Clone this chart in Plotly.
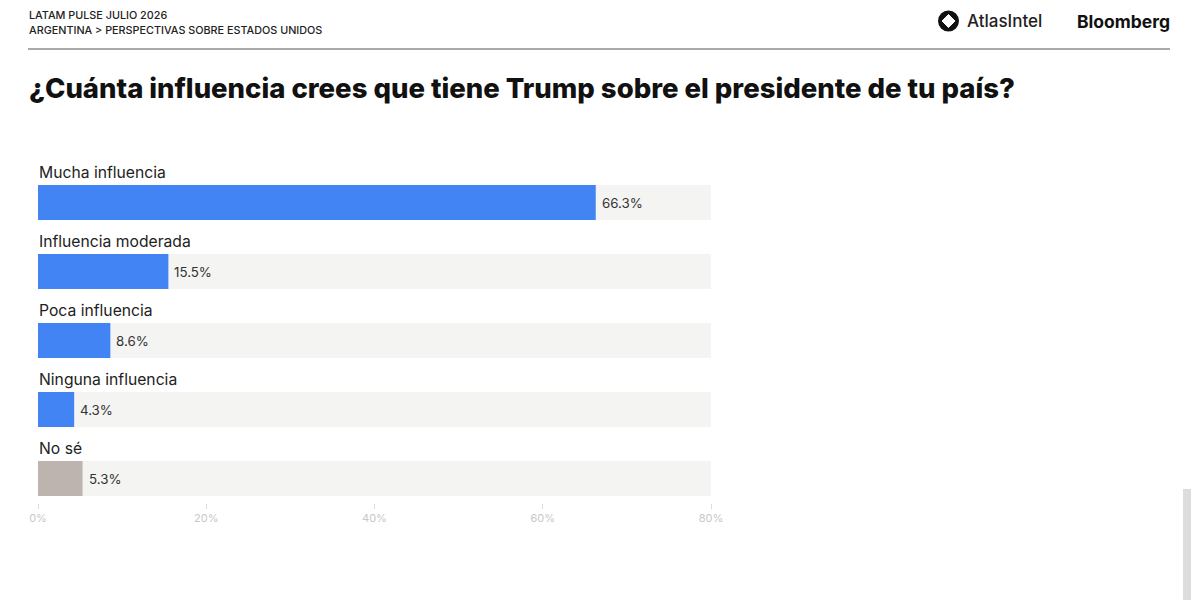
import plotly.graph_objects as go

categories = ["Mucha influencia", "Influencia moderada", "Poca influencia", "Ninguna influencia", "No sé"]
values = [66.3, 15.5, 8.6, 4.3, 5.3]
value_labels = ["66.3%", "15.5%", "8.6%", "4.3%", "5.3%"]
bar_colors = ["#4284F3", "#4284F3", "#4284F3", "#4284F3", "#BEB4AF"]
track_max = [80, 80, 80, 80, 80]
tick_vals = [0, 20, 40, 60, 80]
tick_text = ["0%", "20%", "40%", "60%", "80%"]

OFF = 8  # page body margin
W, H = 1200, 600
PL, PR, PT, PB = 38, 711, 150, 503  # plot area in page pixels
ML, MT = PL - OFF, PT - OFF
MR, MB = W - (PR - OFF), H - (PB - OFF)
PW, PH = PR - PL, PB - PT


def px(x):
    return (x - PL) / PW


def py(y):
    return 1 - (y - PT) / PH


fig = go.Figure()
fig.add_trace(go.Bar(y=categories, x=track_max, orientation="h", marker=dict(color="#F4F4F2", line=dict(width=0)),
                     width=0.507, hoverinfo="skip", showlegend=False))
fig.add_trace(go.Bar(y=categories, x=values, orientation="h", marker=dict(color=bar_colors, line=dict(width=0)),
                     width=0.507, showlegend=False))

ann = []
for c, v, t in zip(categories, values, value_labels):
    ann.append(dict(x=0, y=c, xref="x", yref="y", text=c, showarrow=False, xanchor="left", yanchor="middle",
                    yshift=30, xshift=-1, font=dict(family="Inter", size=15.7, color="#222222")))
    ann.append(dict(x=v, y=c, xref="x", yref="y", text=t, showarrow=False, xanchor="left", yanchor="middle",
                    xshift=4, font=dict(family="Inter", size=13.3, color="#333333")))

ann += [
    dict(x=px(27), y=py(15), xref="paper", yref="paper", text="LATAM PULSE JULIO 2026", showarrow=False,
         xanchor="left", yanchor="middle", font=dict(family="Inter", size=10.8, color="#222222", weight=500)),
    dict(x=px(27), y=py(31), xref="paper", yref="paper", text="ARGENTINA &gt; PERSPECTIVAS SOBRE ESTADOS UNIDOS",
         showarrow=False, xanchor="left", yanchor="middle", font=dict(family="Inter", size=10.8, color="#222222", weight=500)),
    dict(x=px(965), y=py(21), xref="paper", yref="paper", text="AtlasIntel", showarrow=False,
         xanchor="left", yanchor="middle", font=dict(family="Inter", size=17, color="#222222", weight=500)),
    dict(x=px(1075), y=py(21), xref="paper", yref="paper", text="Bloomberg", showarrow=False,
         xanchor="left", yanchor="middle", font=dict(family="Inter", size=17.5, color="#111111", weight=700)),
    dict(x=px(27), y=py(88), xref="paper", yref="paper",
         text="¿Cuánta influencia crees que tiene Trump sobre el presidente de tu país?", showarrow=False,
         xanchor="left", yanchor="middle", font=dict(family="Inter", size=27.5, color="#111111", weight=800)),
]

shapes = [
    dict(type="line", xref="paper", yref="paper", x0=px(28), x1=px(1170), y0=py(49), y1=py(49),
         line=dict(color="#555555", width=1)),
    dict(type="rect", xref="paper", yref="paper", x0=px(1183), x1=px(1191), y0=py(600), y1=py(489),
         fillcolor="#DDDDDD", line=dict(width=0)),
    dict(type="line", xref="paper", yref="paper", x0=px(1196), x1=px(1196), y0=py(600), y1=py(0),
         line=dict(color="#E6E6E6", width=2)),
    dict(type="circle", xref="paper", yref="paper", x0=px(938), x1=px(959), y0=py(31.5), y1=py(10.5),
         fillcolor="#111111", line=dict(width=0)),
    dict(type="path", xref="paper", yref="paper",
         path=f"M {px(948.5)},{py(14.5)} L {px(955)},{py(21)} L {px(948.5)},{py(27.5)} L {px(942)},{py(21)} Z",
         fillcolor="#FFFFFF", line=dict(color="#FFFFFF", width=1)),
]

fig.update_layout(
    width=W, height=H,
    paper_bgcolor="#FFFFFF", plot_bgcolor="#FFFFFF",
    margin=dict(l=ML, r=MR, t=MT, b=MB),
    barmode="overlay",
    annotations=ann, shapes=shapes,
    xaxis=dict(range=[0, 80], tickvals=tick_vals, ticktext=tick_text, showgrid=False,
               zeroline=False, showline=False, ticks="outside", ticklen=5, tickcolor="#DDDDDD",
               tickfont=dict(family="Inter", size=11, color="#C8C8C8")),
    yaxis=dict(type="category", categoryorder="array", categoryarray=categories,
               range=[4.355, -0.761], showticklabels=False, showgrid=False, zeroline=False, showline=False),
    font=dict(family="Inter"),
)

fig.write_html("out.html")
